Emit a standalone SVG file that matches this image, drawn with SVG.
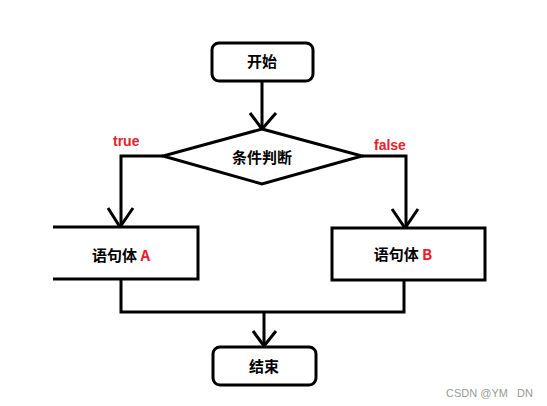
<svg xmlns="http://www.w3.org/2000/svg" width="547" height="406" viewBox="0 0 547 406">
<style>
.s{fill:#fff;stroke:#000;stroke-width:3}
.l{fill:none;stroke:#000;stroke-width:3}
.t{font-family:"Noto Sans CJK SC","Liberation Sans",sans-serif;font-weight:bold;font-size:15px;fill:#000;text-anchor:middle}
.r{fill:#e8202a}
.lab{font-family:"Liberation Sans","Noto Sans",sans-serif;font-weight:bold;font-size:14px;fill:#e8202a}
</style>
<rect width="547" height="406" fill="#fff"/>
<g id="connectors">
<path class="l" d="M262 81V128"/>
<path class="l" d="M250 113L262 129L276 113"/>
<path class="l" d="M163 156H121V226"/>
<path class="l" d="M108 208L120 227L133 208"/>
<path class="l" d="M362 156H406V227"/>
<path class="l" d="M392 209L405 228L418 209"/>
<path class="l" d="M121 279V312H404V280"/>
<path class="l" d="M264 312V346"/>
<path class="l" d="M253 331L264 346L276 331"/>
</g>
<g id="start">
<rect class="s" x="212" y="43" width="101" height="38" rx="7"/>
<text class="t" x="262" y="67">开始</text>
</g>
<g id="cond">
<polygon class="s" points="262,129 362,156 262,184 163,156"/>
<text class="t" x="262" y="163">条件判断</text>
</g>
<g id="bodyA">
<path class="s" d="M53 227H198V279H53"/>
<text class="t" x="121" y="261">语句体 <tspan class="r">A</tspan></text>
</g>
<g id="bodyB">
<rect class="s" x="332" y="228" width="153" height="52"/>
<text class="t" x="403" y="260">语句体 <tspan class="r">B</tspan></text>
</g>
<g id="end">
<rect class="s" x="213" y="347" width="103" height="38" rx="7"/>
<text class="t" x="264" y="372">结束</text>
</g>
<text class="lab" x="113" y="146">true</text>
<text class="lab" x="374" y="150">false</text>
<text x="446" y="397" font-family="Liberation Sans, sans-serif" font-size="11" fill="#999" xml:space="preserve">CSDN @YM   DN</text>
</svg>
